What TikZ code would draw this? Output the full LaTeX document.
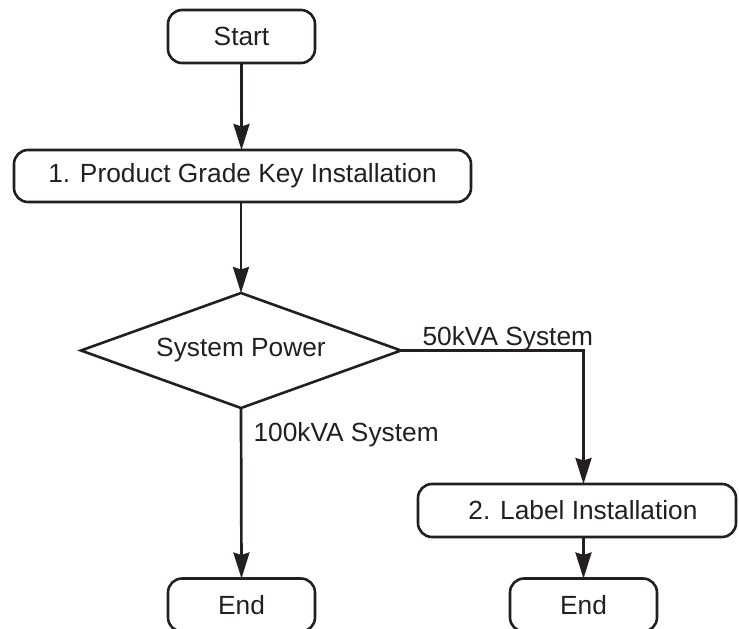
\documentclass[tikz,border=0pt]{standalone}
\usepackage{fontspec}
\setmainfont{Liberation Sans}
\usetikzlibrary{arrows.meta,shapes.geometric}
\definecolor{ink}{HTML}{231F20}
\begin{document}
\begin{tikzpicture}[x=1pt,y=-1pt,
  every node/.style={font=\fontsize{26.3}{30}\selectfont, text=ink},
  stepbox/.style={draw=ink, line width=2.6pt, rounded corners=14pt, rectangle, inner sep=0pt, outer sep=0pt},
  decbox/.style={draw=ink, line width=2.6pt, diamond, aspect=2.75, inner sep=0pt, outer sep=0pt,
     minimum width=320pt, minimum height=115pt},
  flow/.style={draw=ink, line width=2.7pt, -{Stealth[length=26pt,width=16pt,inset=2.5pt]}},
  lbl/.style={anchor=base west}
]
\useasboundingbox (0,0) rectangle (739,629);
\node[stepbox, minimum width=147pt, minimum height=53pt] (start) at (241.5,36.5) {Start};
\node[stepbox, minimum width=457pt, minimum height=52pt] (box1) at (242.5,176) {1. Product Grade Key Installation};
\node[decbox] (dia) at (241,350.5) {System Power};
\node[stepbox, minimum width=318pt, minimum height=53pt] (box2) at (577,510.5) {\hspace*{12pt}2. Label Installation};
\node[stepbox, minimum width=147pt, minimum height=53pt] (endL) at (241.5,605) {End};
\node[stepbox, minimum width=147pt, minimum height=53pt] (endR) at (583.5,605) {End};
\coordinate (c1) at (583.5,350.5);

\draw[flow] (start.south) -- (start.south |- box1.north);
\draw[flow] (box1.south -| dia.north) -- (dia.north);
\draw[flow] (dia.east) -- (c1) -- (c1 |- box2.north);
\draw[flow] (dia.south) -- (endL.north);
\draw[flow] (endR.north |- box2.south) -- (endR.north);

\node[lbl] (l50) at (419,345) {50kVA System};
\node[lbl] (l100) at (250,441) {100kVA System};
\end{tikzpicture}
\end{document}
